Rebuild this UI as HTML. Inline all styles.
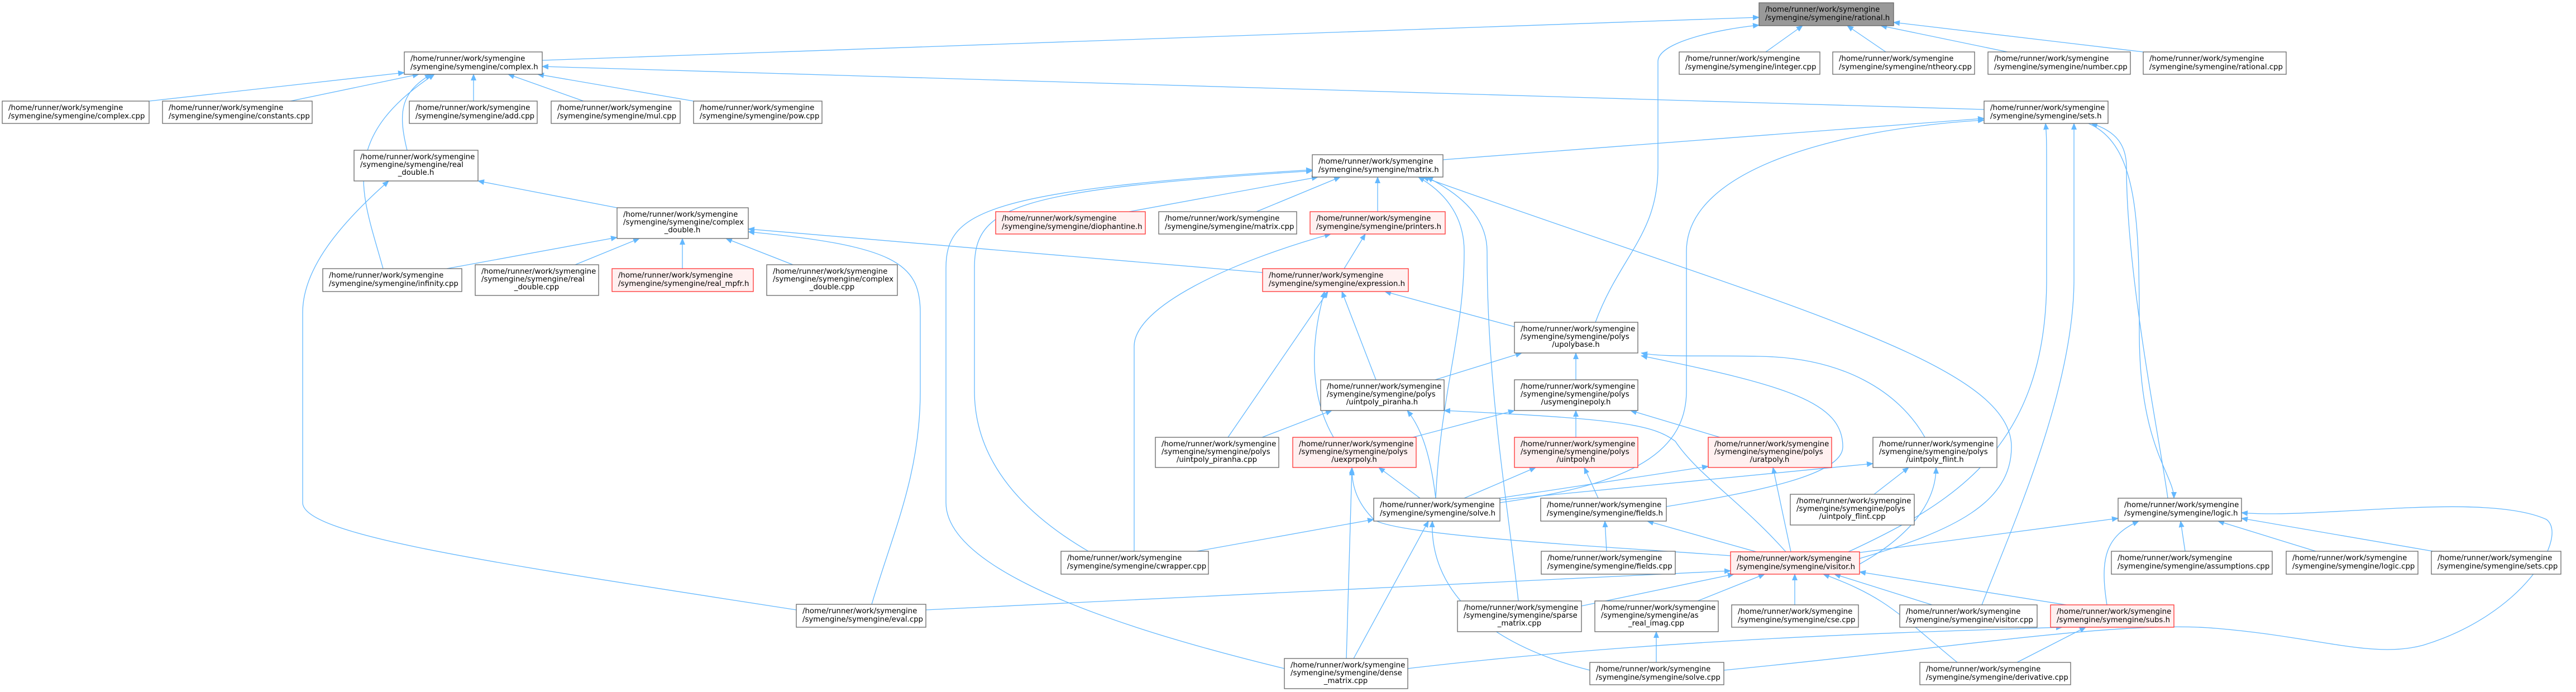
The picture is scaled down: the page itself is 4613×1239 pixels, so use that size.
<!DOCTYPE html>
<html><head><meta charset="utf-8"><style>
html,body{margin:0;padding:0;background:#fff;}
svg{display:block;}
text{font-family:"DejaVu Sans","Liberation Sans",sans-serif;font-size:13.3px;fill:#000;}
.n rect{fill:#fff;stroke:#666;stroke-width:1.3;}
.r rect{fill:#fff0f0;stroke:#ff3030;stroke-width:1.3;}
.g rect{fill:#999;stroke:#666;stroke-width:1.3;}
.e{fill:none;stroke:#63b8ff;stroke-width:1.3;marker-end:url(#a);}
</style></head><body>
<svg width="4613" height="1239" viewBox="0 0 4613 1239" xmlns="http://www.w3.org/2000/svg">
<defs><marker id="a" markerWidth="12" markerHeight="10" refX="11" refY="5" orient="auto" markerUnits="userSpaceOnUse"><path d="M0,0 L12,5 L0,10 z" fill="#63b8ff"/></marker></defs>
<g>
<path class="e" d="M971,108 L3150,31"/>
<path class="e" d="M3162,93 L3228,46"/>
<path class="e" d="M3377,93 L3308,46"/>
<path class="e" d="M3595,93 L3368,46"/>
<path class="e" d="M3838,93 L3391,40"/>
<path class="e" d="M2857,577 C2900,460 2969,420 2969,300 L2969,110 C2969,75 3080,52 3150,45"/>
<path class="e" d="M267,181 L724,130"/>
<path class="e" d="M520,181 L750,133"/>
<path class="e" d="M848,181 L848,133"/>
<path class="e" d="M1045,181 L910,133"/>
<path class="e" d="M1242,181 L963,133"/>
<path class="e" d="M729,269 C712,200 718,165 772,133"/>
<path class="e" d="M686,481 C650,350 600,250 778,133"/>
<path class="e" d="M3553,196 L971,119"/>
<path class="e" d="M1426,1092 C900,1010 542,960 542,900 L542,560 C542,480 610,400 696,324"/>
<path class="e" d="M1105,372 L856,324"/>
<path class="e" d="M800,481 L1105,425"/>
<path class="e" d="M1030,474 L1145,427"/>
<path class="e" d="M1222,481 L1222,427"/>
<path class="e" d="M1420,474 L1300,427"/>
<path class="e" d="M2261,488 L1340,410"/>
<path class="e" d="M1561,1082 C1600,950 1648,850 1648,700 L1648,560 C1648,470 1600,440 1340,415"/>
<path class="e" d="M2584,286 L3553,212"/>
<path class="e" d="M2022,379 L2360,317"/>
<path class="e" d="M2250,379 L2400,317"/>
<path class="e" d="M2467,379 L2467,317"/>
<path class="e" d="M2407,481 L2445,419"/>
<path class="e" d="M2300,1197 C1900,1100 1694,1000 1694,900 L1694,480 C1694,380 1760,340 2350,304"/>
<path class="e" d="M1949,987 C1800,900 1745,800 1745,700 L1745,480 C1745,370 1810,340 2350,306"/>
<path class="e" d="M2031,987 L2031,620 C2031,550 2200,470 2383,419"/>
<path class="e" d="M2571,892 C2580,700 2622,600 2622,450 C2622,380 2580,340 2540,317"/>
<path class="e" d="M2719,1076 C2700,900 2663,700 2663,450 C2663,380 2600,340 2555,317"/>
<path class="e" d="M3330,1000 C3500,950 3602,900 3602,800 C3602,650 3200,550 2548,317"/>
<path class="e" d="M3198,988 C3120,900 3040,850 3000,790 C2960,760 2900,750 2586,735"/>
<path class="e" d="M2712,585 L2480,522"/>
<path class="e" d="M2464,680 L2403,522"/>
<path class="e" d="M2199,783 L2378,522"/>
<path class="e" d="M2388,783 C2340,700 2350,600 2372,522"/>
<path class="e" d="M2570,680 L2725,632"/>
<path class="e" d="M2822,680 L2822,632"/>
<path class="e" d="M2530,783 L2712,735"/>
<path class="e" d="M2822,783 L2822,735"/>
<path class="e" d="M3080,783 L2920,735"/>
<path class="e" d="M2260,783 L2385,735"/>
<path class="e" d="M2571,892 C2560,800 2540,760 2520,735"/>
<path class="e" d="M2543,892 L2469,837"/>
<path class="e" d="M2622,892 L2750,837"/>
<path class="e" d="M2684,892 L3059,835"/>
<path class="e" d="M2686,895 L3354,830"/>
<path class="e" d="M2862,892 L2837,837"/>
<path class="e" d="M2984,907 C3150,880 3300,850 3300,800 C3300,720 3200,690 2939,637"/>
<path class="e" d="M3447,783 C3400,700 3300,640 3150,638 C3050,636 2980,640 2939,632"/>
<path class="e" d="M3207,988 L3175,837"/>
<path class="e" d="M3330,1010 C3420,960 3467,900 3467,837"/>
<path class="e" d="M3145,988 L2950,933"/>
<path class="e" d="M2877,987 L2874,933"/>
<path class="e" d="M2411,1179 L2421,837"/>
<path class="e" d="M3099,995 C2900,980 2500,960 2460,930 C2430,900 2421,870 2421,840"/>
<path class="e" d="M2143,987 L2460,930"/>
<path class="e" d="M2424,1179 L2558,933"/>
<path class="e" d="M2847,1200 C2650,1150 2560,1050 2565,933"/>
<path class="e" d="M1658,1092 L3099,1022"/>
<path class="e" d="M2832,1085 L3105,1028"/>
<path class="e" d="M3040,1076 L3160,1028"/>
<path class="e" d="M3214,1083 L3214,1028"/>
<path class="e" d="M3460,1083 L3285,1028"/>
<path class="e" d="M3700,1083 L3330,1024"/>
<path class="e" d="M3505,1186 C3400,1100 3380,1070 3265,1028"/>
<path class="e" d="M2966,1186 L2966,1131"/>
<path class="e" d="M2521,1197 C3000,1140 3500,1130 3693,1123"/>
<path class="e" d="M3087,1200 C3500,1160 3800,1110 3968,1125 C4150,1140 4250,1180 4340,1155 C4520,1100 4600,960 4560,930 C4450,880 4150,930 4014,918"/>
<path class="e" d="M3612,1186 L3735,1123"/>
<path class="e" d="M3773,1083 C3760,1000 3770,960 3830,933"/>
<path class="e" d="M3325,990 L3793,928"/>
<path class="e" d="M3882,892 C3870,800 3808,500 3808,300 C3808,260 3790,235 3745,221"/>
<path class="e" d="M3740,221 C3830,260 3831,400 3831,600 C3832,800 3893,850 3893,892"/>
<path class="e" d="M3913,987 L3905,933"/>
<path class="e" d="M4147,987 L3972,933"/>
<path class="e" d="M4357,987 L4014,928"/>
<path class="e" d="M3310,988 C3500,900 3665,800 3665,500 L3665,300 C3665,260 3665,240 3663,221"/>
<path class="e" d="M3549,1083 C3600,950 3714,700 3714,500 L3714,221"/>
<path class="e" d="M3356,885 L3418,837"/>
<path class="e" d="M2686,900 C2900,870 3020,820 3020,700 L3020,450 C3020,300 3300,230 3553,215"/>
</g>
<g class="g"><rect x="3150" y="5" width="241" height="41"/><text x="3161" y="21">/home/runner/work/symengine</text><text x="3161" y="36">/symengine/symengine/rational.h</text></g>
<g class="n"><rect x="724" y="93" width="247" height="40"/><text x="735" y="109">/home/runner/work/symengine</text><text x="735" y="124">/symengine/symengine/complex.h</text></g>
<g class="n"><rect x="3007" y="93" width="252" height="40"/><text x="3018" y="109">/home/runner/work/symengine</text><text x="3018" y="124">/symengine/symengine/integer.cpp</text></g>
<g class="n"><rect x="3282" y="93" width="254" height="40"/><text x="3293" y="109">/home/runner/work/symengine</text><text x="3293" y="124">/symengine/symengine/ntheory.cpp</text></g>
<g class="n"><rect x="3560" y="93" width="255" height="40"/><text x="3571" y="109">/home/runner/work/symengine</text><text x="3571" y="124">/symengine/symengine/number.cpp</text></g>
<g class="n"><rect x="3838" y="93" width="256" height="40"/><text x="3849" y="109">/home/runner/work/symengine</text><text x="3849" y="124">/symengine/symengine/rational.cpp</text></g>
<g class="n"><rect x="4" y="181" width="263" height="40"/><text x="15" y="197">/home/runner/work/symengine</text><text x="15" y="212">/symengine/symengine/complex.cpp</text></g>
<g class="n"><rect x="291" y="181" width="268" height="40"/><text x="302" y="197">/home/runner/work/symengine</text><text x="302" y="212">/symengine/symengine/constants.cpp</text></g>
<g class="n"><rect x="733" y="181" width="229" height="40"/><text x="744" y="197">/home/runner/work/symengine</text><text x="744" y="212">/symengine/symengine/add.cpp</text></g>
<g class="n"><rect x="987" y="181" width="231" height="40"/><text x="998" y="197">/home/runner/work/symengine</text><text x="998" y="212">/symengine/symengine/mul.cpp</text></g>
<g class="n"><rect x="1242" y="181" width="230" height="40"/><text x="1253" y="197">/home/runner/work/symengine</text><text x="1253" y="212">/symengine/symengine/pow.cpp</text></g>
<g class="n"><rect x="3553" y="181" width="222" height="40"/><text x="3564" y="197">/home/runner/work/symengine</text><text x="3564" y="212">/symengine/symengine/sets.h</text></g>
<g class="n"><rect x="634" y="269" width="222" height="55"/><text x="645" y="285">/home/runner/work/symengine</text><text x="645" y="299">/symengine/symengine/real</text><text x="745" y="313" text-anchor="middle">_double.h</text></g>
<g class="n"><rect x="2350" y="277" width="234" height="40"/><text x="2361" y="293">/home/runner/work/symengine</text><text x="2361" y="308">/symengine/symengine/matrix.h</text></g>
<g class="n"><rect x="1105" y="372" width="235" height="55"/><text x="1116" y="388">/home/runner/work/symengine</text><text x="1116" y="402">/symengine/symengine/complex</text><text x="1222" y="416" text-anchor="middle">_double.h</text></g>
<g class="r"><rect x="1783" y="379" width="268" height="40"/><text x="1794" y="395">/home/runner/work/symengine</text><text x="1794" y="410">/symengine/symengine/diophantine.h</text></g>
<g class="n"><rect x="2075" y="379" width="247" height="40"/><text x="2086" y="395">/home/runner/work/symengine</text><text x="2086" y="410">/symengine/symengine/matrix.cpp</text></g>
<g class="r"><rect x="2346" y="379" width="242" height="40"/><text x="2357" y="395">/home/runner/work/symengine</text><text x="2357" y="410">/symengine/symengine/printers.h</text></g>
<g class="n"><rect x="578" y="481" width="249" height="41"/><text x="589" y="497">/home/runner/work/symengine</text><text x="589" y="512">/symengine/symengine/infinity.cpp</text></g>
<g class="n"><rect x="851" y="474" width="221" height="55"/><text x="862" y="490">/home/runner/work/symengine</text><text x="862" y="504">/symengine/symengine/real</text><text x="961" y="518" text-anchor="middle">_double.cpp</text></g>
<g class="r"><rect x="1096" y="481" width="253" height="41"/><text x="1107" y="497">/home/runner/work/symengine</text><text x="1107" y="512">/symengine/symengine/real_mpfr.h</text></g>
<g class="n"><rect x="1373" y="474" width="234" height="55"/><text x="1384" y="490">/home/runner/work/symengine</text><text x="1384" y="504">/symengine/symengine/complex</text><text x="1490" y="518" text-anchor="middle">_double.cpp</text></g>
<g class="r"><rect x="2261" y="481" width="261" height="41"/><text x="2272" y="497">/home/runner/work/symengine</text><text x="2272" y="512">/symengine/symengine/expression.h</text></g>
<g class="n"><rect x="2712" y="577" width="221" height="55"/><text x="2723" y="593">/home/runner/work/symengine</text><text x="2723" y="607">/symengine/symengine/polys</text><text x="2822" y="621" text-anchor="middle">/upolybase.h</text></g>
<g class="n"><rect x="2365" y="680" width="221" height="55"/><text x="2376" y="696">/home/runner/work/symengine</text><text x="2376" y="710">/symengine/symengine/polys</text><text x="2475" y="724" text-anchor="middle">/uintpoly_piranha.h</text></g>
<g class="n"><rect x="2712" y="680" width="221" height="55"/><text x="2723" y="696">/home/runner/work/symengine</text><text x="2723" y="710">/symengine/symengine/polys</text><text x="2822" y="724" text-anchor="middle">/usymenginepoly.h</text></g>
<g class="n"><rect x="2069" y="783" width="221" height="54"/><text x="2080" y="799">/home/runner/work/symengine</text><text x="2080" y="813">/symengine/symengine/polys</text><text x="2179" y="827" text-anchor="middle">/uintpoly_piranha.cpp</text></g>
<g class="r"><rect x="2315" y="783" width="221" height="54"/><text x="2326" y="799">/home/runner/work/symengine</text><text x="2326" y="813">/symengine/symengine/polys</text><text x="2425" y="827" text-anchor="middle">/uexprpoly.h</text></g>
<g class="r"><rect x="2712" y="783" width="221" height="54"/><text x="2723" y="799">/home/runner/work/symengine</text><text x="2723" y="813">/symengine/symengine/polys</text><text x="2822" y="827" text-anchor="middle">/uintpoly.h</text></g>
<g class="r"><rect x="3059" y="783" width="221" height="54"/><text x="3070" y="799">/home/runner/work/symengine</text><text x="3070" y="813">/symengine/symengine/polys</text><text x="3169" y="827" text-anchor="middle">/uratpoly.h</text></g>
<g class="n"><rect x="3354" y="783" width="222" height="54"/><text x="3365" y="799">/home/runner/work/symengine</text><text x="3365" y="813">/symengine/symengine/polys</text><text x="3465" y="827" text-anchor="middle">/uintpoly_flint.h</text></g>
<g class="n"><rect x="3206" y="885" width="222" height="55"/><text x="3217" y="901">/home/runner/work/symengine</text><text x="3217" y="915">/symengine/symengine/polys</text><text x="3317" y="929" text-anchor="middle">/uintpoly_flint.cpp</text></g>
<g class="n"><rect x="2460" y="892" width="226" height="41"/><text x="2471" y="908">/home/runner/work/symengine</text><text x="2471" y="923">/symengine/symengine/solve.h</text></g>
<g class="n"><rect x="2759" y="892" width="225" height="41"/><text x="2770" y="908">/home/runner/work/symengine</text><text x="2770" y="923">/symengine/symengine/fields.h</text></g>
<g class="n"><rect x="3793" y="892" width="221" height="41"/><text x="3804" y="908">/home/runner/work/symengine</text><text x="3804" y="923">/symengine/symengine/logic.h</text></g>
<g class="n"><rect x="1900" y="987" width="264" height="41"/><text x="1911" y="1003">/home/runner/work/symengine</text><text x="1911" y="1018">/symengine/symengine/cwrapper.cpp</text></g>
<g class="n"><rect x="2760" y="987" width="240" height="41"/><text x="2771" y="1003">/home/runner/work/symengine</text><text x="2771" y="1018">/symengine/symengine/fields.cpp</text></g>
<g class="r"><rect x="3099" y="988" width="231" height="40"/><text x="3110" y="1004">/home/runner/work/symengine</text><text x="3110" y="1019">/symengine/symengine/visitor.h</text></g>
<g class="n"><rect x="3781" y="987" width="288" height="41"/><text x="3792" y="1003">/home/runner/work/symengine</text><text x="3792" y="1018">/symengine/symengine/assumptions.cpp</text></g>
<g class="n"><rect x="4094" y="987" width="236" height="41"/><text x="4105" y="1003">/home/runner/work/symengine</text><text x="4105" y="1018">/symengine/symengine/logic.cpp</text></g>
<g class="n"><rect x="4354" y="987" width="232" height="41"/><text x="4365" y="1003">/home/runner/work/symengine</text><text x="4365" y="1018">/symengine/symengine/sets.cpp</text></g>
<g class="n"><rect x="1426" y="1082" width="232" height="41"/><text x="1437" y="1098">/home/runner/work/symengine</text><text x="1437" y="1113">/symengine/symengine/eval.cpp</text></g>
<g class="n"><rect x="2610" y="1076" width="222" height="55"/><text x="2621" y="1092">/home/runner/work/symengine</text><text x="2621" y="1106">/symengine/symengine/sparse</text><text x="2721" y="1120" text-anchor="middle">_matrix.cpp</text></g>
<g class="n"><rect x="2856" y="1076" width="221" height="55"/><text x="2867" y="1092">/home/runner/work/symengine</text><text x="2867" y="1106">/symengine/symengine/as</text><text x="2966" y="1120" text-anchor="middle">_real_imag.cpp</text></g>
<g class="n"><rect x="3101" y="1083" width="227" height="40"/><text x="3112" y="1099">/home/runner/work/symengine</text><text x="3112" y="1114">/symengine/symengine/cse.cpp</text></g>
<g class="n"><rect x="3402" y="1083" width="246" height="40"/><text x="3413" y="1099">/home/runner/work/symengine</text><text x="3413" y="1114">/symengine/symengine/visitor.cpp</text></g>
<g class="r"><rect x="3672" y="1083" width="221" height="40"/><text x="3683" y="1099">/home/runner/work/symengine</text><text x="3683" y="1114">/symengine/symengine/subs.h</text></g>
<g class="n"><rect x="2300" y="1179" width="221" height="54"/><text x="2311" y="1195">/home/runner/work/symengine</text><text x="2311" y="1209">/symengine/symengine/dense</text><text x="2410" y="1223" text-anchor="middle">_matrix.cpp</text></g>
<g class="n"><rect x="2847" y="1186" width="240" height="40"/><text x="2858" y="1202">/home/runner/work/symengine</text><text x="2858" y="1217">/symengine/symengine/solve.cpp</text></g>
<g class="n"><rect x="3438" y="1186" width="270" height="40"/><text x="3449" y="1202">/home/runner/work/symengine</text><text x="3449" y="1217">/symengine/symengine/derivative.cpp</text></g>
</svg>
</body></html>
